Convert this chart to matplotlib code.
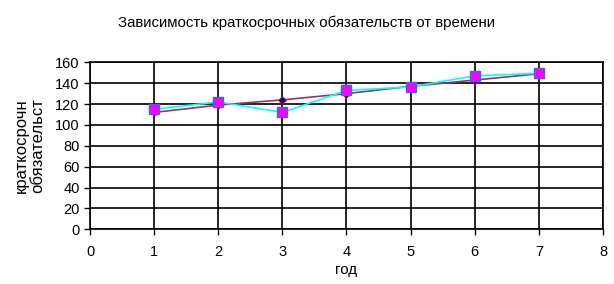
import matplotlib
matplotlib.use("Agg")
import matplotlib.pyplot as plt

plt.rcParams['font.family'] = ['Liberation Sans', 'DejaVu Sans']

years = [1, 2, 3, 4, 5, 6, 7]
trend = [112, 119, 124, 130, 137, 143, 149]
liabilities = [115, 122, 112, 133, 136.5, 147, 149.5]

fig = plt.figure(figsize=(6.14, 2.84), dpi=100)
ax = fig.add_axes([0.1466, 0.1926, 0.8354, 0.588])

ax.plot(years, trend, color='#993366', lw=1.2, marker='D', ms=4,
        mfc='#000080', mec='red', mew=0.6, zorder=3)
ax.plot(years, liabilities, color='cyan', lw=1.2, marker='s', ms=7,
        mfc='magenta', mec='#3366ff', mew=1.0, zorder=4)

ax.set_xlim(0, 8)
ax.set_ylim(0, 160)
ax.set_xticks(range(0, 9))
ax.set_yticks(range(0, 161, 20))
ax.grid(True, color='black', lw=1.2)
ax.set_axisbelow(True)
for s in ax.spines.values():
    s.set_linewidth(1.2)
ax.tick_params(direction='out', length=4, width=1, labelsize=10.5)
ax.tick_params(axis='x', pad=7)

ax.set_xlabel('год', fontsize=11, labelpad=3)
ax.set_ylabel('краткосрочн\nобязательст', fontsize=12, labelpad=7,
              linespacing=1.15)
fig.suptitle('Зависимость краткосрочных обязательств от времени',
             fontsize=10.8, y=0.945)

fig.savefig('out.png', dpi=100)
